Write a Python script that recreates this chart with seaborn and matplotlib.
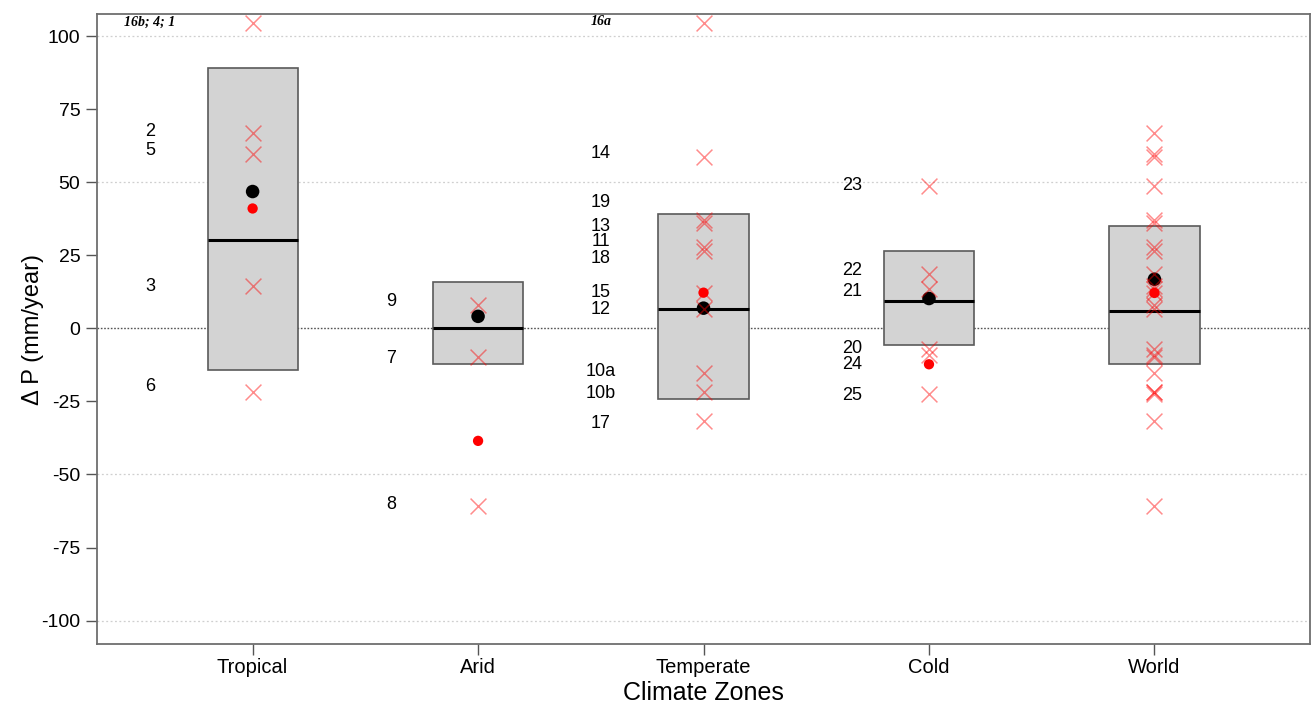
import numpy as np
import pandas as pd
import matplotlib
matplotlib.use("Agg")
import matplotlib.pyplot as plt
import seaborn as sns

# ---- data -------------------------------------------------------------
zones = ["Tropical", "Arid", "Temperate", "Cold", "World"]

box_low = [-14.4, -12.3, -24.3, -5.8, -12.3]
box_high = [88.9, 15.7, 39.0, 26.3, 34.9]
box_median = [30.1, 0.0, 6.7, 9.4, 5.8]
mean_black = [46.8, 4.1, 6.9, 10.2, 16.8]
mean_red = [41.0, -38.5, 12.2, -12.3, 12.1]

tropical_ids = ["2", "5", "3", "6"]
tropical_dp = [66.7, 59.5, 14.6, -21.9]
tropical_label_y = [67.4, 60.9, 14.4, -19.8]

arid_ids = ["9", "7", "8"]
arid_dp = [7.9, -9.8, -60.7]
arid_label_y = [9.2, -10.3, -60.2]

temperate_ids = ["14", "19", "13", "11", "18", "15", "12", "10a", "10b", "17"]
temperate_dp = [58.6, 37.0, 36.1, 27.8, 26.3, 12.2, 6.7, -15.2, -21.8, -31.7]
temperate_label_y = [59.8, 43.1, 34.9, 29.7, 23.9, 12.3, 6.5, -14.7, -22.2, -32.5]

cold_ids = ["23", "22", "21", "20", "24", "25"]
cold_dp = [48.7, 18.5, 13.6, -7.0, -9.2, -22.3]
cold_label_y = [48.9, 19.8, 12.6, -6.8, -12.3, -22.9]

# studies whose change exceeds the plotted range (shown at the top edge)
capped_zones = ["Tropical", "Temperate"]
capped_ids = ["16b; 4; 1", "16a"]
capped_dp = [104.3, 104.3]

# ---- long table of study points --------------------------------------
groups = [
    ("Tropical", tropical_ids, tropical_dp, tropical_label_y),
    ("Arid", arid_ids, arid_dp, arid_label_y),
    ("Temperate", temperate_ids, temperate_dp, temperate_label_y),
    ("Cold", cold_ids, cold_dp, cold_label_y),
]
rows = []
for zone, ids, vals, _ in groups:
    for sid, v in zip(ids, vals):
        rows.append({"zone": zone, "study": sid, "dp": v})
        rows.append({"zone": "World", "study": sid, "dp": v})
for zone, sid, v in zip(capped_zones, capped_ids, capped_dp):
    rows.append({"zone": zone, "study": sid, "dp": v})
studies = pd.DataFrame(rows)
pos = {z: i for i, z in enumerate(zones)}
studies["x"] = studies["zone"].map(pos)

summary = pd.DataFrame({
    "zone": zones, "x": range(len(zones)),
    "low": box_low, "high": box_high, "median": box_median,
    "mean_black": mean_black, "mean_red": mean_red,
})

# ---- figure -----------------------------------------------------------
sns.set_theme(style="white")
plt.rcParams["font.family"] = ["Liberation Sans", "DejaVu Sans"]
plt.rcParams["axes.unicode_minus"] = False

fig = plt.figure(figsize=(13.15, 7.05), dpi=100)
ax = fig.add_axes([0.0738, 0.0865, 0.9224, 0.8935])

# reference lines
for g in [-100, -50, 50, 100]:
    ax.axhline(g, color="#cfcfcf", lw=0.9, ls=(0, (1.5, 2)), zorder=0)
ax.axhline(0, color="#555555", lw=1.0, ls=(0, (1.2, 1.2)), zorder=0)

# interval boxes with median bars
ax.bar(summary["x"], summary["high"] - summary["low"], bottom=summary["low"],
       width=0.4, color="#d3d3d3", edgecolor="#5a5a5a", linewidth=1.2, zorder=1)
ax.hlines(summary["median"], summary["x"] - 0.2, summary["x"] + 0.2,
          color="black", lw=2.2, zorder=2)

# mean markers
sns.scatterplot(data=summary, x="x", y="mean_black", color="black", s=95,
                edgecolor="none", ax=ax, zorder=3, legend=False)
sns.scatterplot(data=summary, x="x", y="mean_red", color="red", s=55,
                edgecolor="none", ax=ax, zorder=3, legend=False)

# individual studies
sns.scatterplot(data=studies, x="x", y="dp", marker="x", color="red",
                alpha=0.45, s=130, linewidth=1.1, ax=ax, zorder=4, legend=False)

# study labels
label_x = {"Tropical": -0.455, "Arid": 0.615, "Temperate": 1.545, "Cold": 2.66}
for zone, ids, _, ys in groups:
    for sid, y in zip(ids, ys):
        ax.text(label_x[zone], y, sid, ha="center", va="center",
                fontsize=13, color="black")
for zone, sid, v in zip(capped_zones, capped_ids, capped_dp):
    ax.text(label_x[zone], v + 0.5, sid, ha="center", va="center",
            fontsize=10, fontweight="bold", fontstyle="italic",
            family=["Liberation Serif", "DejaVu Serif"], color="black")

# axes styling
ax.set_xlim(-0.69, 4.69)
ax.set_ylim(-108, 107.5)
ax.set_xticks(range(len(zones)))
ax.set_xticklabels(zones)
ax.set_yticks(np.arange(-100, 101, 25))
ax.tick_params(axis="both", which="both", direction="out", length=8,
               width=1, color="#555555", labelsize=14, labelcolor="black",
               bottom=True, left=True, pad=4)
ax.tick_params(axis="x", labelsize=14.5, pad=2)
for sp in ax.spines.values():
    sp.set_color("#6e6e6e")
    sp.set_linewidth(1.3)
ax.set_xlabel("Climate Zones", fontsize=18, labelpad=3, color="black")
ax.set_ylabel("\u0394 P (mm/year)", fontsize=17, labelpad=-2, color="black")

fig.savefig("out.png", dpi=100)
